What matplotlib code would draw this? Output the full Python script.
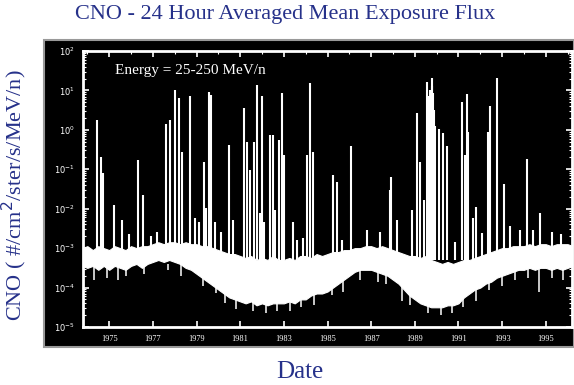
import numpy as np
import matplotlib.pyplot as plt
from matplotlib.patches import Rectangle
from matplotlib.ticker import FixedLocator, LogLocator, NullFormatter

# 24 hour averaged CNO flux, log10 of the quiet-time band edges (quarterly samples)
band_years = np.arange(1973.75, 1996.26, 0.25)
band_top = [-3.00,
            -2.95, -3.05, -2.95, -3.00,  -3.05, -2.95, -3.00, -3.05,
            -2.95, -3.00, -2.95, -2.95,  -2.90, -2.85, -2.90, -2.85,
            -2.85, -2.90, -2.85, -2.90,  -2.90, -2.95, -2.95, -3.00,
            -3.05, -3.10, -3.15, -3.15,  -3.20, -3.25, -3.20, -3.30,
            -3.25, -3.30, -3.20, -3.30,  -3.30, -3.25, -3.30, -3.20,
            -3.20, -3.25, -3.15, -3.20,  -3.15, -3.10, -3.10, -3.05,
            -3.05, -3.00, -3.00, -2.95,  -2.95, -3.00, -2.95, -3.00,
            -3.05, -3.10, -3.15, -3.20,  -3.20, -3.25, -3.20, -3.30,
            -3.35, -3.40, -3.35, -3.40,  -3.35, -3.30, -3.30, -3.25,
            -3.20, -3.15, -3.10, -3.05,  -3.00, -3.00, -2.95, -2.95,
            -2.95, -2.90, -2.95, -2.90,  -2.90, -2.95, -2.90, -2.90,
            -2.90, -2.95]
band_bottom = [-3.45,
               -3.50, -3.45, -3.55, -3.45,  -3.55, -3.45, -3.50, -3.55,
               -3.45, -3.40, -3.50, -3.40,  -3.35, -3.30, -3.35, -3.30,
               -3.35, -3.40, -3.50, -3.55,  -3.65, -3.75, -3.85, -3.95,
               -4.05, -4.15, -4.25, -4.30,  -4.35, -4.40, -4.35, -4.45,
               -4.40, -4.45, -4.40, -4.40,  -4.40, -4.35, -4.40, -4.30,
               -4.30, -4.20, -4.15, -4.15,  -4.10, -4.00, -3.90, -3.80,
               -3.70, -3.60, -3.55, -3.55,  -3.55, -3.60, -3.65, -3.70,
               -3.80, -3.90, -4.05, -4.20,  -4.30, -4.40, -4.45, -4.50,
               -4.50, -4.50, -4.45, -4.45,  -4.40, -4.25, -4.15, -4.05,
               -4.00, -3.90, -3.85, -3.75,  -3.70, -3.65, -3.60, -3.55,
               -3.55, -3.50, -3.55, -3.50,  -3.50, -3.55, -3.50, -3.55,
               -3.50, -3.45]

# solar particle events: date and log10 of the daily peak
event_years = [1974.44, 1974.62, 1974.71, 1975.20, 1975.58, 1976.33, 1976.54,
               1977.18, 1977.60, 1977.78, 1978.02, 1978.22, 1978.33, 1978.68,
               1978.94, 1979.13, 1979.35, 1979.44, 1979.55, 1979.65, 1979.85,
               1980.50, 1980.69, 1981.18, 1981.30, 1981.45, 1981.65, 1981.76,
               1981.91, 1982.00, 1982.09, 1982.37, 1982.49, 1982.60, 1982.80,
               1982.90, 1983.00, 1983.43, 1983.62, 1984.05, 1984.22, 1984.35,
               1985.27, 1985.45, 1985.65, 1986.06, 1987.86, 1987.90, 1988.17,
               1988.85, 1989.10, 1989.23, 1989.42, 1989.58, 1989.62, 1989.66,
               1989.70, 1989.72, 1989.77, 1989.80, 1989.84, 1989.88, 1989.92,
               1990.11, 1990.30, 1990.48, 1990.84, 1991.18,
               1991.29, 1991.37, 1991.44, 1991.67, 1991.82, 1992.10, 1992.33,
               1992.44, 1992.77, 1993.08, 1993.35, 1993.81, 1994.12, 1994.72,
               1975.90, 1976.90, 1980.10, 1983.90, 1986.80, 1987.40, 1994.40,
               1995.30, 1995.70]
event_peaks = [0.25, -0.68, -1.09, -1.91, -2.29, -0.76, -1.65,
               -2.58, 0.15, 0.25, 1.01, 0.81, -0.56, 0.86,
               -2.24, -2.33, -0.82, -1.98, 0.97, 0.88, -2.33,
               -0.38, -2.29, 0.55, -0.30, -1.02, -0.30, 1.14,
               -2.11, 0.86, -2.33, -0.13, -0.13, -2.03, -0.26,
               0.93, -0.64, -2.33, -2.79, -0.64, 1.18, -0.55,
               -1.15, -1.31, -2.79, -0.41, -1.53, -1.19, -2.29,
               -2.03, 0.42, -0.81, -1.78, 1.22, 0.85, 0.60,
               1.00, 0.90, 1.31, 1.10, 0.93, 0.50, 0.10,
               0.02, -0.07, -0.41, -2.84, 0.71,
               -0.64, 0.91, -0.05, -2.24, -1.95, -2.62, -0.05,
               0.60, 1.31, -1.37, -2.45, -2.54, -0.75, -2.11,
               -2.65, -2.70, -2.60, -2.75, -2.55, -2.60, -2.55,
               -2.60, -2.65]

# short downward excursions below the band
dip_years = [1974.30, 1974.90, 1975.40, 1975.75, 1976.60, 1977.70, 1978.30,
             1979.30, 1979.90, 1980.30, 1980.80, 1981.60, 1982.20, 1982.70,
             1983.30, 1983.80, 1984.40, 1985.20, 1985.70, 1986.50, 1987.30,
             1987.70, 1988.40, 1988.80, 1989.60, 1990.20, 1990.70, 1991.20,
             1991.50, 1991.80, 1992.40, 1993.00, 1993.60, 1994.20, 1994.70,
             1995.30, 1995.80]
dip_lows = [-3.80, -3.75, -3.80, -3.70, -3.65, -3.55, -3.70,
            -3.95, -4.15, -4.40, -4.55, -4.60, -4.65, -4.60,
            -4.60, -4.50, -4.45, -4.20, -4.10, -3.80, -3.85,
            -3.90, -4.35, -4.45, -4.65, -4.70, -4.65, -4.50,
            -4.10, -4.35, -4.05, -3.95, -3.80, -3.75, -4.10,
            -3.75, -3.80]

year_ticks = list(range(1975, 1996, 2))

navy = '#26318a'
serif = ['Liberation Serif', 'DejaVu Serif']

fig = plt.figure(figsize=(5.74, 3.85), dpi=100)
fig.patch.set_facecolor('white')
fig.patches.append(Rectangle((44 / 574, 1 - 347 / 385), 530 / 574, 307 / 385,
                             transform=fig.transFigure, facecolor='black',
                             edgecolor='#999999', linewidth=1.5, zorder=-5))

ax = fig.add_axes([83 / 574, 1 - 327 / 385, 489 / 574, 276 / 385])
ax.set_zorder(2)
ax.set_facecolor('black')

ax.fill_between(band_years, 10 ** np.array(band_bottom), 10 ** np.array(band_top),
                color='white', linewidth=0.8, edgecolor='white')
ax.vlines(event_years, 10 ** -3.3, 10 ** np.array(event_peaks), color='white', linewidth=1.5)
ax.vlines(dip_years, 10 ** -3.4, 10 ** np.array(dip_lows), color='white', linewidth=1.1)

ax.set_yscale('log')
ax.set_ylim(1e-5, 1e2)
ax.set_xlim(1973.8, 1996.2)

ax.xaxis.set_major_locator(FixedLocator(year_ticks))
ax.xaxis.set_minor_locator(FixedLocator(range(1974, 1997)))
ax.set_xticklabels([str(y) for y in year_ticks], family=serif, fontsize=6)
ax.yaxis.set_minor_locator(LogLocator(base=10, subs=np.arange(2, 10), numticks=10))
ax.yaxis.set_minor_formatter(NullFormatter())
ax.set_yticks([10.0 ** k for k in range(-5, 3)])
ax.set_yticklabels(['10$^{%d}$' % k for k in range(-5, 3)], fontsize=6)

ax.tick_params(which='both', colors='white', labelcolor='white', direction='in',
               top=True, right=True)
ax.tick_params(which='major', length=4, width=1.2, pad=6)
ax.tick_params(which='minor', length=2, width=0.8)
ax.tick_params(axis='x', which='minor', bottom=False)
for s in ax.spines.values():
    s.set_color('white')
    s.set_linewidth(2)

ax.text(0.065, 0.93, 'Energy = 25-250 MeV/n', transform=ax.transAxes, color='white',
        family=serif, fontsize=11, va='center', ha='left')

fig.text(0.497, 1 - 14 / 385, 'CNO - 24 Hour Averaged Mean Exposure Flux', color=navy,
         family=serif, fontsize=16, ha='center', va='center')
fig.text(14 / 574, 1 - 195 / 385, 'CNO ( #/cm$^2$/ster/s/MeV/n)', color=navy,
         family=serif, fontsize=16, rotation=90, ha='center', va='center')
fig.text(300 / 574, 1 - 372 / 385, 'Date', color=navy, family=serif, fontsize=18,
         ha='center', va='center')

fig.savefig('out.png', dpi=100, facecolor='white')
